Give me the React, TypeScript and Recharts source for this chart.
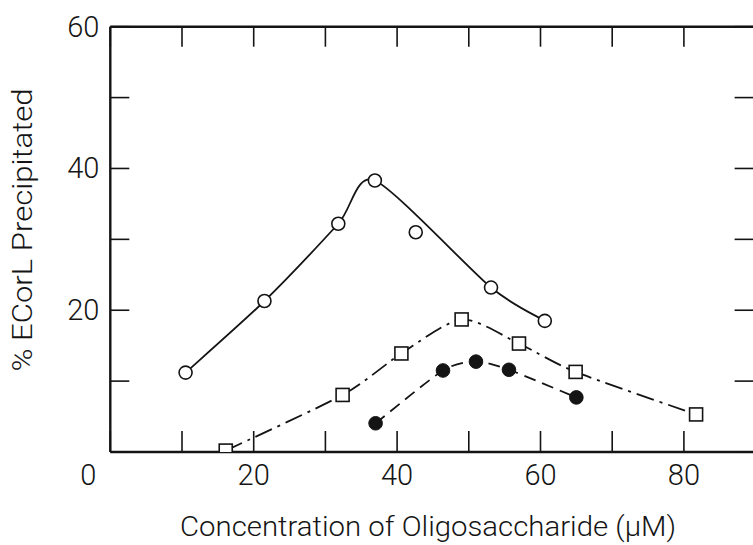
import React from 'react';
import { ComposedChart, Line, Scatter, XAxis, YAxis } from 'recharts';

// Open circles (solid curve); the point at 42.6 lies off the drawn curve
const openX = [10.5, 21.5, 31.8, 36.9, 42.6, 53.1, 60.6];
const openY = [11.2, 21.3, 32.2, 38.3, 31.0, 23.2, 18.5];
const openOnCurve = [true, true, true, true, false, true, true];
// Open squares (dash-dot curve)
const squareX = [16.1, 32.4, 40.6, 49.0, 57.0, 64.9, 81.7];
const squareY = [0.2, 8.05, 13.9, 18.7, 15.3, 11.3, 5.3];
// Filled circles (dashed curve)
const filledX = [37.0, 46.4, 51.0, 55.6, 65.0];
const filledY = [4.05, 11.5, 12.75, 11.6, 7.7];

const xTicks = [0, 10, 20, 30, 40, 50, 60, 70, 80, 90];
const xTickLabels = [0, 20, 40, 60, 80];
const yTicks = [0, 10, 20, 30, 40, 50, 60];
const yTickLabels = [20, 40, 60];

const xTitle = 'Concentration of Oligosaccharide (\u03bcM)';
const yTitle = '% ECorL Precipitated';

const toPts = (xs: number[], ys: number[]) => xs.map((x, i) => ({ x, y: ys[i] }));
const openPts = toPts(openX, openY);
const openCurve = openPts.filter((_, i) => openOnCurve[i]);
const squarePts = toPts(squareX, squareY);
const filledPts = toPts(filledX, filledY);

const INK = '#141414';
const FONT = 'Roboto, "DejaVu Sans", sans-serif';

// Cardinal spline curve factory (d3-style interface) passed to Recharts' Line type
const cardinalCurve = (tension: number) => (context: any) => {
  let pts: number[][] = [];
  return {
    areaStart() {},
    areaEnd() {},
    lineStart() {
      pts = [];
    },
    point(x: number, y: number) {
      pts.push([+x, +y]);
    },
    lineEnd() {
      const n = pts.length;
      if (!n) return;
      const k = (1 - tension) / 6;
      context.moveTo(pts[0][0], pts[0][1]);
      for (let i = 0; i < n - 1; i++) {
        const p0 = pts[Math.max(i - 1, 0)];
        const p1 = pts[i];
        const p2 = pts[i + 1];
        const p3 = pts[Math.min(i + 2, n - 1)];
        context.bezierCurveTo(
          p1[0] + (p2[0] - p0[0]) * k,
          p1[1] + (p2[1] - p0[1]) * k,
          p2[0] - (p3[0] - p1[0]) * k,
          p2[1] - (p3[1] - p1[1]) * k,
          p2[0],
          p2[1]
        );
      }
    },
  };
};
const smooth = cardinalCurve(0.25);

const BottomTick = (p: any) => {
  const { x, y, payload } = p;
  const v = payload.value;
  return (
    <g>
      <line x1={x} y1={y} x2={x} y2={y - 21} stroke={INK} strokeWidth={1.6} />
      {xTickLabels.includes(v) && (
        <text x={v === 0 ? x - 22 : x} y={y + 33} textAnchor="middle" fontSize={29} fontWeight={300} fontFamily={FONT} fill={INK}>
          {v}
        </text>
      )}
    </g>
  );
};
const TopTick = (p: any) => {
  const { x, y } = p;
  return <line x1={x} y1={y} x2={x} y2={y + 20} stroke={INK} strokeWidth={1.6} />;
};
const LeftTick = (p: any) => {
  const { x, y, payload } = p;
  const v = payload.value;
  return (
    <g>
      <line x1={x} y1={y} x2={x + 19} y2={y} stroke={INK} strokeWidth={1.6} />
      {yTickLabels.includes(v) && (
        <text x={x - 11} y={y + 10} textAnchor="end" fontSize={29} fontWeight={300} fontFamily={FONT} fill={INK}>
          {v}
        </text>
      )}
    </g>
  );
};
const RightTick = (p: any) => {
  const { x, y } = p;
  return <line x1={x} y1={y} x2={x - 21} y2={y} stroke={INK} strokeWidth={1.6} />;
};

const OpenCircle = (p: any) => <circle cx={p.cx} cy={p.cy} r={6.5} fill="#fff" stroke={INK} strokeWidth={1.6} />;
const OpenSquare = (p: any) => <rect x={p.cx - 6.5} y={p.cy - 6.5} width={13} height={13} fill="#fff" stroke={INK} strokeWidth={1.6} />;
const FilledCircle = (p: any) => <circle cx={p.cx} cy={p.cy} r={6.8} fill={INK} stroke={INK} strokeWidth={1} />;

export default function App() {
  return (
    <div style={{ position: 'absolute', left: 0, top: 0, width: 753, height: 545, overflow: 'hidden', background: '#fff' }}>
      <ComposedChart width={780} height={545} margin={{ top: 25.7, right: 23.4, bottom: 0, left: 0 }}>
        <XAxis
          xAxisId="b"
          dataKey="x"
          type="number"
          domain={[0, 90]}
          ticks={xTicks}
          interval={0}
          allowDataOverflow
          height={93}
          tickSize={0}
          tickMargin={0}
          tickLine={false}
          tick={BottomTick}
          axisLine={{ stroke: INK, strokeWidth: 2.4 }}
          label={{
            content: () => (
              <text x={428} y={536} textAnchor="middle" fontSize={28} fontWeight={300} fontFamily={FONT} fill={INK} textLength={496} lengthAdjust="spacingAndGlyphs">
                {xTitle}
              </text>
            ),
          }}
        />
        <XAxis
          xAxisId="t"
          orientation="top"
          dataKey="x"
          type="number"
          domain={[0, 90]}
          ticks={xTicks}
          interval={0}
          allowDataOverflow
          height={1}
          tickSize={0}
          tickMargin={0}
          tickLine={false}
          tick={TopTick}
          axisLine={{ stroke: INK, strokeWidth: 2.4 }}
        />
        <YAxis
          yAxisId="l"
          dataKey="y"
          type="number"
          domain={[0, 60]}
          ticks={yTicks}
          interval={0}
          allowDataOverflow
          width={110.3}
          tickSize={0}
          tickMargin={0}
          tickLine={false}
          tick={LeftTick}
          axisLine={{ stroke: INK, strokeWidth: 2.4 }}
          label={{
            content: () => (
              <text x={32} y={230} transform="rotate(-90 32 230)" textAnchor="middle" fontSize={27} fontWeight={300} fontFamily={FONT} fill={INK} textLength={283} lengthAdjust="spacingAndGlyphs">
                {yTitle}
              </text>
            ),
          }}
        />
        <YAxis
          yAxisId="r"
          orientation="right"
          dataKey="y"
          type="number"
          domain={[0, 60]}
          ticks={yTicks}
          interval={0}
          allowDataOverflow
          width={1}
          tickSize={0}
          tickMargin={0}
          tickLine={false}
          tick={RightTick}
          axisLine={false}
        />
        <Line xAxisId="b" yAxisId="l" data={openCurve} dataKey="y" type={smooth as any} stroke={INK} strokeWidth={1.8} dot={false} activeDot={false} isAnimationActive={false} />
        <Line xAxisId="b" yAxisId="l" data={squarePts} dataKey="y" type={smooth as any} stroke={INK} strokeWidth={1.8} strokeDasharray="18 6 3 6" dot={false} activeDot={false} isAnimationActive={false} />
        <Line xAxisId="b" yAxisId="l" data={filledPts} dataKey="y" type={smooth as any} stroke={INK} strokeWidth={1.8} strokeDasharray="12 7" dot={false} activeDot={false} isAnimationActive={false} />
        <Scatter xAxisId="b" yAxisId="l" data={openPts} dataKey="y" shape={OpenCircle} isAnimationActive={false} />
        <Scatter xAxisId="b" yAxisId="l" data={squarePts} dataKey="y" shape={OpenSquare} isAnimationActive={false} />
        <Scatter xAxisId="b" yAxisId="l" data={filledPts} dataKey="y" shape={FilledCircle} isAnimationActive={false} />
      </ComposedChart>
    </div>
  );
}
